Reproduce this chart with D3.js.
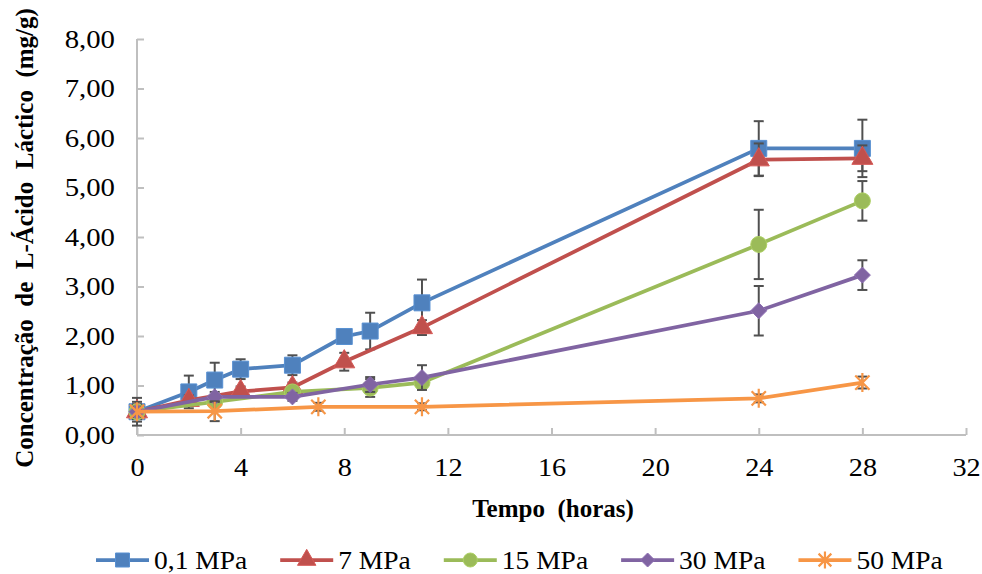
<!DOCTYPE html>
<html>
<head>
<meta charset="utf-8">
<script src="https://cdn.jsdelivr.net/npm/d3@7"></script>
<style>
  body { margin: 0; background: #fff; }
  text { font-family: "Liberation Serif", "Times New Roman", serif; fill: #000; }
</style>
</head>
<body>
<div id="chart"></div>
<script>
// horas de amostragem e concentracoes
var seriesNames = ["0,1 MPa", "7 MPa", "15 MPa", "30 MPa", "50 MPa"];
var seriesColors = ["#4F81BD", "#C0504D", "#9BBB59", "#8064A2", "#F79646"];
var seriesMarkers = ["square", "triangle", "circle", "diamond", "star"];

var t01 = [0, 2, 3, 4, 6, 8, 9, 11, 24, 28];
var y01 = [0.47, 0.87, 1.11, 1.33, 1.41, 1.99, 2.10, 2.67, 5.79, 5.79];
var e01 = [0.28, 0.33, 0.35, 0.20, 0.20, 0.08, 0.37, 0.47, 0.55, 0.58];

var t7 = [0, 2, 4, 6, 8, 11, 24, 28];
var y7 = [0.47, 0.70, 0.88, 0.96, 1.48, 2.17, 5.56, 5.59];
var e7 = [0.15, 0.10, 0.10, 0.10, 0.18, 0.15, 0.33, 0.26];

var t15 = [0, 3, 6, 9, 11, 24, 28];
var y15 = [0.47, 0.67, 0.87, 0.95, 1.06, 3.85, 4.73];
var e15 = [0.10, 0.10, 0.10, 0.18, 0.12, 0.70, 0.40];

var t30 = [0, 3, 6, 9, 11, 24, 28];
var y30 = [0.47, 0.77, 0.77, 1.02, 1.16, 2.51, 3.23];
var e30 = [0.10, 0.10, 0.08, 0.15, 0.25, 0.50, 0.30];

var t50 = [0, 3, 7, 11, 24, 28];
var y50 = [0.47, 0.48, 0.57, 0.57, 0.74, 1.06];
var e50 = [0.20, 0.20, 0.08, 0.07, 0.08, 0.12];

var xTicks = [0, 4, 8, 12, 16, 20, 24, 28, 32];
var yTicks = [0, 1, 2, 3, 4, 5, 6, 7, 8];

var xTitle = "Tempo  (horas)";
var yTitle = "Concentração  de  L-Ácido  Láctico  (mg/g)";

(function() {

  var width = 982;
  var height = 574;
  var left = 137, right = 966, top = 39, bottom = 435;

  var allT = [t01, t7, t15, t30, t50];
  var allY = [y01, y7, y15, y30, y50];
  var allE = [e01, e7, e15, e30, e50];

  var data = seriesNames.map(function(name, i) {
    return {
      name: name,
      color: seriesColors[i],
      marker: seriesMarkers[i],
      points: allT[i].map(function(t, j) {
        return { t: t, y: allY[i][j], e: allE[i][j] };
      })
    };
  });

  var svg = d3.select("#chart")
    .append("svg")
    .attr("width", width)
    .attr("height", height);

  var x = d3.scaleLinear().domain([0, 32]).range([left, right]);
  var y = d3.scaleLinear().domain([0, 8]).range([bottom, top]);

  // o texto normal do original e um pouco mais largo
  function widen(sel, k) {
    sel.each(function() {
      var w = this.getComputedTextLength();
      d3.select(this)
        .attr("textLength", w * k)
        .attr("lengthAdjust", "spacingAndGlyphs");
    });
  }

  // eixos
  var axisColor = "#BFBFBF";

  var xAxis = svg.append("g")
    .attr("transform", "translate(0," + bottom + ")")
    .call(d3.axisBottom(x).tickValues(xTicks).tickSize(-7).tickPadding(23)
      .tickFormat(function(d){ return d; }));
  xAxis.select(".domain").attr("stroke", axisColor).attr("stroke-width", 2)
    .attr("d", "M" + left + ",0H" + right);
  xAxis.selectAll(".tick line").attr("stroke", axisColor).attr("stroke-width", 2);
  xAxis.selectAll(".tick text")
    .attr("font-size", "25px")
    .attr("fill", "#000")
    .call(widen, 1.13);

  var yAxis = svg.append("g")
    .attr("transform", "translate(" + left + ",0)")
    .call(d3.axisLeft(y).tickValues(yTicks).tickSize(-7).tickPadding(22)
      .tickFormat(function(d){ return d3.format(".2f")(d).replace(".", ","); }));
  yAxis.select(".domain").attr("stroke", axisColor).attr("stroke-width", 2)
    .attr("d", "M0," + top + "V" + bottom);
  yAxis.selectAll(".tick line").attr("stroke", axisColor).attr("stroke-width", 2);
  yAxis.selectAll(".tick text")
    .attr("font-size", "25px")
    .attr("fill", "#000")
    .call(widen, 1.15);

  // titulos
  svg.append("text")
    .attr("x", 553)
    .attr("y", 517)
    .attr("text-anchor", "middle")
    .attr("font-size", "25px")
    .attr("font-weight", "bold")
    .style("white-space", "pre")
    .text(xTitle);

  svg.append("text")
    .attr("transform", "translate(33," + 238 + ") rotate(-90)")
    .attr("text-anchor", "middle")
    .attr("font-size", "25px")
    .attr("font-weight", "bold")
    .style("white-space", "pre")
    .text(yTitle);

  function markerPath(type, s) {
    if (type == "square") return d3.symbol().type(d3.symbolSquare).size(s * s)();
    if (type == "triangle") return d3.symbol().type(d3.symbolTriangle).size(s * s * 0.75)();
    if (type == "circle") return d3.symbol().type(d3.symbolCircle).size(Math.PI * s * s / 4)();
    if (type == "diamond") {
      var h = s / 2;
      return "M0," + (-h) + "L" + h + ",0L0," + h + "L" + (-h) + ",0Z";
    }
    var r = s / 2, k = r * 0.75;
    return "M" + (-k) + "," + (-k) + "L" + k + "," + k +
      "M" + (-k) + "," + k + "L" + k + "," + (-k) +
      "M0," + (-r) + "L0," + r;
  }

  function drawMarker(sel, d, cx, cy, s) {
    var p = sel.append("path")
      .attr("transform", "translate(" + cx + "," + cy + ")")
      .attr("d", markerPath(d.marker, s));
    if (d.marker == "star") {
      p.attr("fill", "none").attr("stroke", d.color).attr("stroke-width", 2.2);
    } else {
      p.attr("fill", d.color).attr("stroke", d3.color(d.color).brighter(0.3)).attr("stroke-width", 1);
    }
  }

  var line = d3.line()
    .x(function(p){ return x(p.t); })
    .y(function(p){ return y(p.y); });

  var cap = 5;

  data.forEach(function(d) {
    var g = svg.append("g");

    // barras de erro
    var eb = g.selectAll(".err")
      .data(d.points)
      .enter().append("g")
      .attr("stroke", "#505050")
      .attr("stroke-width", 2);
    eb.append("line")
      .attr("x1", function(p){ return x(p.t); })
      .attr("x2", function(p){ return x(p.t); })
      .attr("y1", function(p){ return y(p.y + p.e); })
      .attr("y2", function(p){ return y(p.y - p.e); });
    eb.append("line")
      .attr("x1", function(p){ return x(p.t) - cap; })
      .attr("x2", function(p){ return x(p.t) + cap; })
      .attr("y1", function(p){ return y(p.y + p.e); })
      .attr("y2", function(p){ return y(p.y + p.e); });
    eb.append("line")
      .attr("x1", function(p){ return x(p.t) - cap; })
      .attr("x2", function(p){ return x(p.t) + cap; })
      .attr("y1", function(p){ return y(p.y - p.e); })
      .attr("y2", function(p){ return y(p.y - p.e); });

    g.append("path")
      .datum(d.points)
      .attr("fill", "none")
      .attr("stroke", d.color)
      .attr("stroke-width", 3.75)
      .attr("stroke-linejoin", "round")
      .attr("d", line);

    d.points.forEach(function(p) {
      drawMarker(g, d, x(p.t), y(p.y), d.marker == "star" ? 19 : 16);
    });
  });

  // legenda
  var legend = svg.append("g").attr("transform", "translate(0,560)");
  var lx = 96;
  data.forEach(function(d) {
    var item = legend.append("g");
    item.append("line")
      .attr("x1", lx).attr("x2", lx + 53)
      .attr("y1", 0).attr("y2", 0)
      .attr("stroke", d.color)
      .attr("stroke-width", 3.75);
    drawMarker(item, d, lx + 26.5, 0, d.marker == "star" ? 17 : 14);
    var txt = item.append("text")
      .attr("x", lx + 58)
      .attr("y", 9)
      .attr("font-size", "25px")
      .text(d.name);
    var w = txt.node().getComputedTextLength() * 1.1;
    txt.attr("textLength", w).attr("lengthAdjust", "spacingAndGlyphs");
    lx = lx + 58 + w + 33;
  });

})();
</script>
</body>
</html>
